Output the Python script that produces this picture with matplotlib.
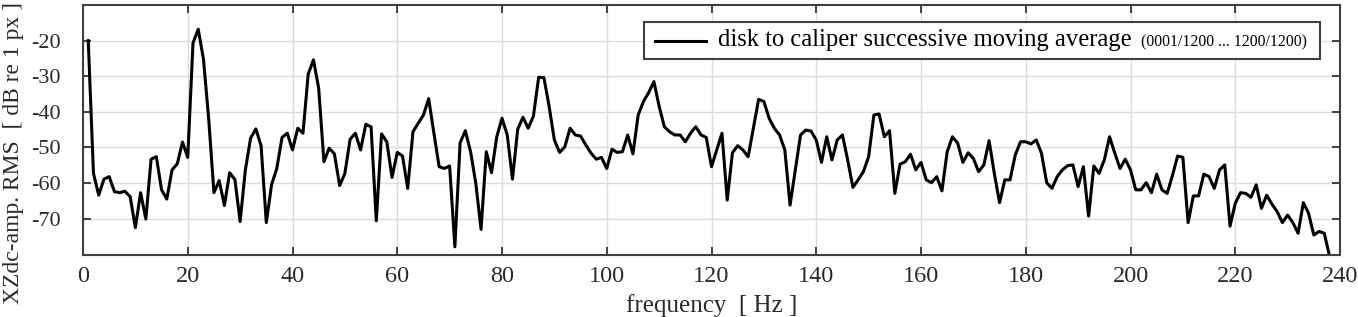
import numpy as np
import matplotlib
matplotlib.use("Agg")
import matplotlib.pyplot as plt
from matplotlib.lines import Line2D
from matplotlib.offsetbox import AnchoredOffsetbox, HPacker, TextArea, DrawingArea

# spectrum, 1 Hz bins from 1 to 238 Hz
freq_hz = np.arange(1, 239)
amp_db = [
    -20.0, -57.3, -63.4, -58.9, -58.2, -62.4, -62.7, -62.3, -63.8, -72.5,
    -62.7, -70.1, -53.3, -52.6, -61.9, -64.5, -56.3, -54.6, -48.5, -52.8,
    -20.7, -16.8, -25.2, -42.0, -62.7, -59.3, -66.3, -57.1, -59.0, -70.8,
    -56.3, -47.4, -44.8, -49.5, -71.1, -60.5, -55.9, -47.2, -46.0, -50.7,
    -44.6, -46.0, -29.4, -25.4, -33.4, -54.0, -50.2, -51.8, -60.7, -57.3,
    -47.7, -46.0, -50.7, -43.5, -44.2, -70.6, -46.2, -48.4, -58.4, -51.4,
    -52.4, -61.5, -45.6, -43.2, -40.9, -36.3, -46.0, -55.4, -55.9, -55.2,
    -77.9, -48.7, -45.3, -51.2, -60.1, -73.0, -51.2, -57.1, -47.0, -41.8,
    -46.5, -58.9, -44.9, -41.5, -44.6, -41.2, -30.3, -30.4, -38.5, -47.9,
    -51.4, -49.8, -44.6, -46.5, -46.8, -49.3, -51.6, -53.3, -52.8, -55.9,
    -50.5, -51.4, -51.2, -46.5, -51.8, -40.9, -37.1, -34.6, -31.5, -38.4,
    -44.2, -45.6, -46.5, -46.5, -48.4, -46.0, -44.2, -46.5, -47.2, -55.4,
    -50.7, -46.0, -64.8, -51.5, -49.5, -50.7, -52.6, -44.6, -36.5, -37.1,
    -41.8, -44.6, -46.5, -50.7, -66.2, -56.3, -46.5, -45.1, -45.4, -47.9,
    -54.2, -47.0, -53.5, -47.9, -46.5, -53.5, -61.2, -59.1, -56.8, -52.6,
    -40.9, -40.6, -47.0, -45.3, -62.9, -54.7, -54.0, -51.9, -56.3, -54.2,
    -59.1, -59.9, -58.2, -62.2, -51.2, -47.0, -48.8, -54.2, -51.5, -53.1,
    -56.8, -54.9, -48.1, -57.3, -65.5, -59.1, -59.1, -52.1, -48.4, -48.4,
    -49.0, -47.9, -51.6, -59.9, -61.5, -58.2, -56.3, -55.1, -54.9, -61.0,
    -55.4, -69.3, -55.2, -57.3, -53.5, -47.0, -51.6, -55.9, -53.3, -56.3,
    -61.9, -61.9, -59.9, -62.7, -57.5, -61.9, -62.9, -57.9, -52.4, -52.8,
    -71.1, -63.6, -63.6, -57.5, -58.2, -61.5, -56.3, -54.9, -72.1, -65.7,
    -62.7, -62.9, -64.0, -60.5, -67.1, -63.4, -65.9, -68.0, -71.1, -69.0,
    -71.1, -74.1, -65.5, -68.5, -74.6, -73.6, -74.1, -80.5,
]
x_ticks = list(range(0, 241, 20))
y_ticks = [-70, -60, -50, -40, -30, -20]
legend_main = "disk to caliper successive moving average"
legend_small = "(0001/1200 ... 1200/1200)"

plt.rcParams['font.family'] = ['Liberation Serif', 'DejaVu Serif']
plt.rcParams['axes.unicode_minus'] = False
edge = '#404040'
txt_col = '#2a2a2a'
line_w = 2.2

W, H = 1358, 317
fig = plt.figure(figsize=(W / 100, H / 100), dpi=100)
ax = fig.add_axes([83 / W, 1 - 255 / H, (1340 - 83) / W, 250 / H])

ax.plot(freq_hz, amp_db, color='black', lw=line_w)

ax.set_xlim(0, 240)
ax.set_ylim(-80.2, -10)
ax.set_xticks(x_ticks)
ax.set_yticks(y_ticks)
ax.grid(True, color='#dcdcdc', lw=1.0)
ax.set_axisbelow(True)
for s in ax.spines.values():
    s.set_color(edge)
    s.set_linewidth(1.5)
ax.tick_params(direction='in', top=True, right=True, length=6, width=1.4,
               color=edge, labelsize=17.5, labelcolor=txt_col)
ax.tick_params(axis='y', pad=16, labelsize=16)
ax.tick_params(axis='x', pad=8)
ax.set_xlabel("frequency  [ Hz ]", fontsize=18, color=txt_col, labelpad=5)
ax.set_ylabel("XZdc-amp. RMS  [ dB re 1 px ]", fontsize=17, color=txt_col)
ax.yaxis.set_label_coords(-0.047, 0.408)

# legend box: line sample, main label, smaller range note
sample = DrawingArea(39, 8, 0, 0)
sample.add_artist(Line2D([2.6, 39], [3.6, 3.6], color='black', lw=line_w))
t_main = TextArea(legend_main, textprops=dict(fontsize=17.7, color='black'))
t_small = TextArea(legend_small, textprops=dict(fontsize=11.3, color='black'))
labels = HPacker(children=[t_main, t_small], align='baseline', pad=0, sep=7)
row = HPacker(children=[sample, labels], align='baseline', pad=0, sep=8.5)
tail = DrawingArea(4, 8, 0, 0)
box = HPacker(children=[row, tail], align='baseline', pad=0, sep=0)
leg = AnchoredOffsetbox(loc='upper right', child=box, pad=0.3, borderpad=0,
                        prop=dict(size=17.7), frameon=True,
                        bbox_to_anchor=((1320 - 83) / 1257, (255 - 22) / 250),
                        bbox_transform=ax.transAxes)
leg.patch.set_edgecolor(edge)
leg.patch.set_linewidth(1.5)
leg.patch.set_facecolor('white')
ax.add_artist(leg)

fig.savefig("out.png", dpi=100)
